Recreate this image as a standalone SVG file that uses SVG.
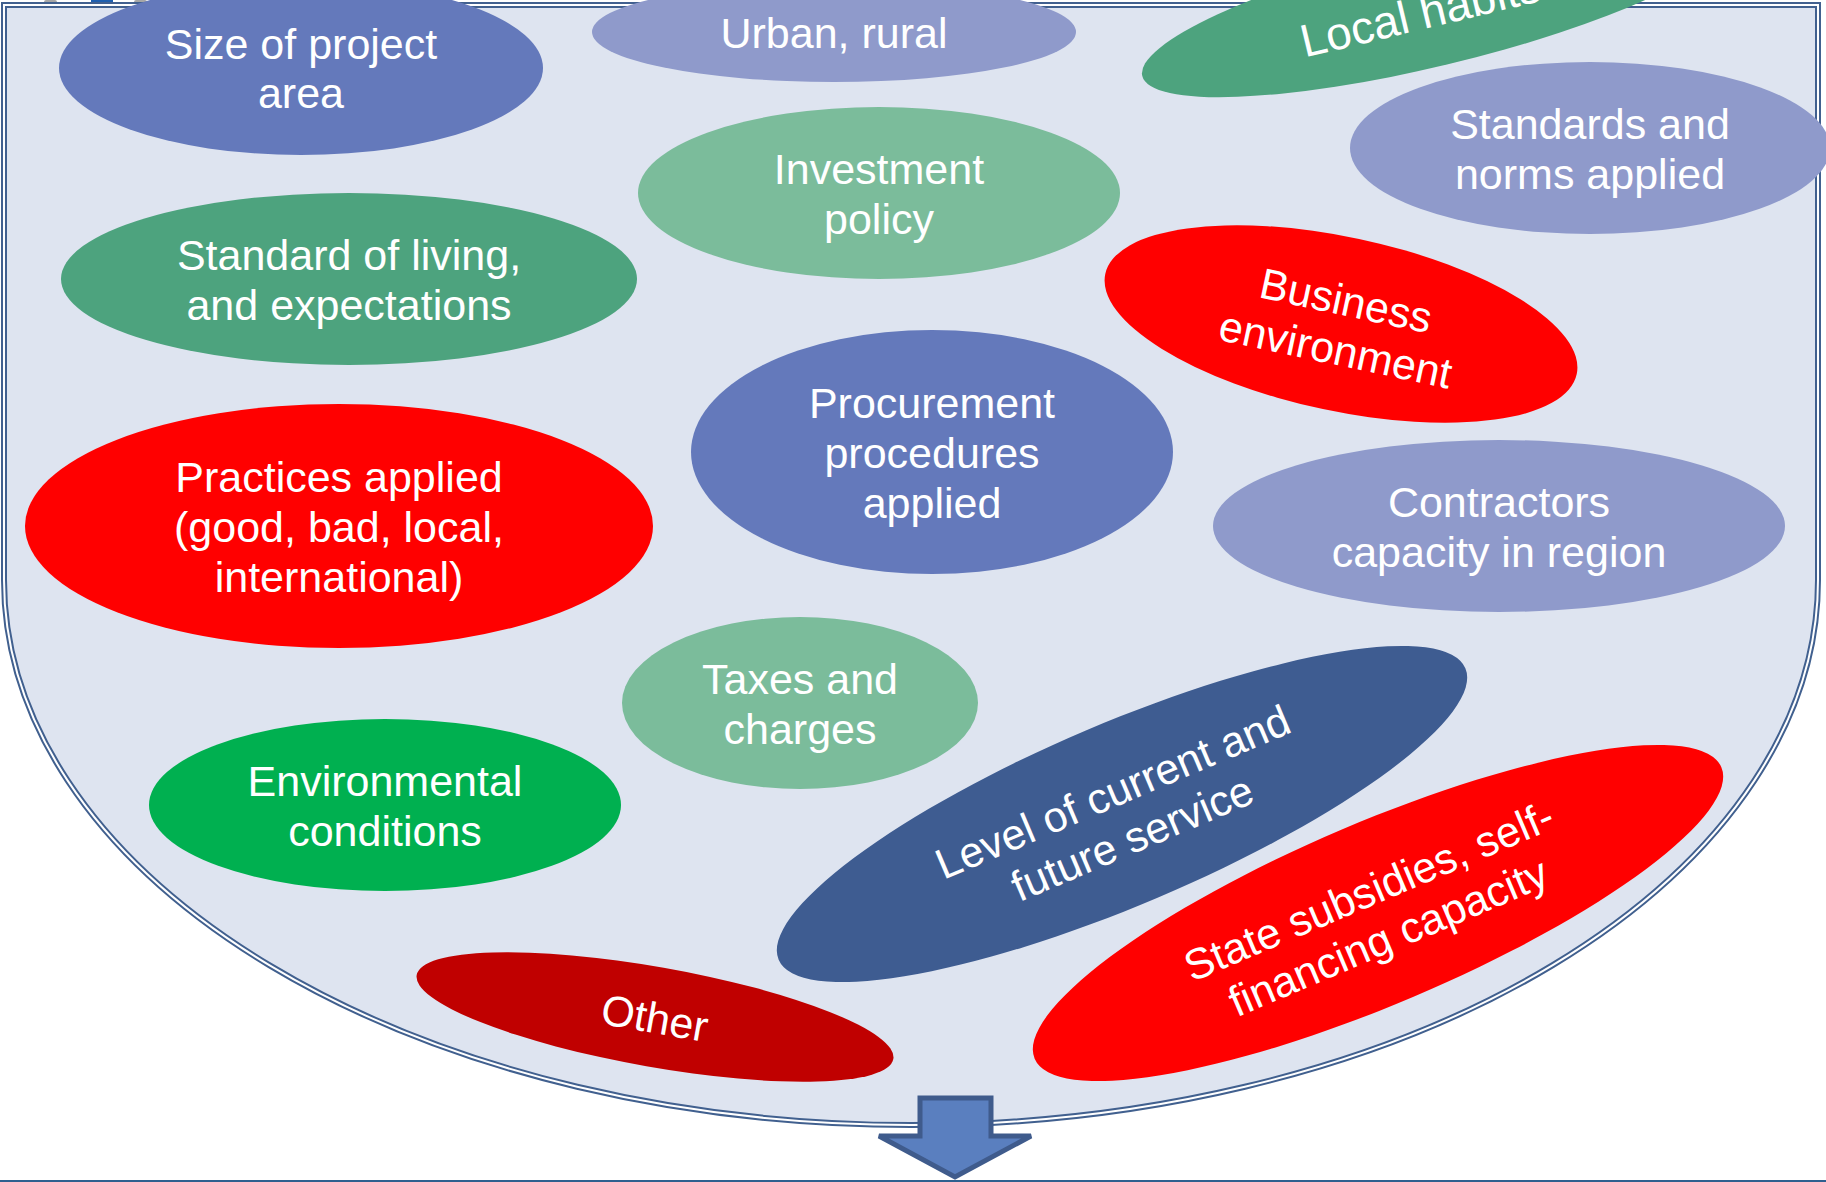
<svg xmlns="http://www.w3.org/2000/svg" width="1826" height="1182" viewBox="0 0 1826 1182">
  <style>
    .lbl { font-family: "Liberation Sans", Arial, sans-serif; font-size: 43px; fill: #ffffff; text-anchor: middle; }
    .blue { fill: #6479bb; }
    .lilac { fill: #8f9acb; }
    .green { fill: #4da37e; }
    .mint { fill: #7bbc9b; }
    .red { fill: #ff0000; }
    .darkred { fill: #c00000; }
    .bright { fill: #00b050; }
    .navy { fill: #3e5c91; }
  </style>
  <defs>
    <path id="bowlShape" d="M4,5 H1818 V580 A907,545 0 0 1 911,1125 A907,545 0 0 1 4,580 Z"/>
  </defs>

  <rect width="1826" height="1182" fill="#ffffff"/>

  <!-- fragments of the heading above the bowl -->
  <g id="heading-fragments">
    <rect x="44" y="0" width="13" height="5" rx="2" fill="#a6a6a6"/>
    <rect x="91" y="0" width="22" height="5" fill="#1f5faf"/>
    <rect x="134" y="0" width="13" height="5" rx="2" fill="#a6a6a6"/>
  </g>

  <!-- bowl with double outline -->
  <g id="bowl">
    <use href="#bowlShape" fill="#dee4f0"/>
    <use href="#bowlShape" fill="none" stroke="#41608f" stroke-width="6"/>
    <use href="#bowlShape" fill="none" stroke="#ffffff" stroke-width="2"/>
  </g>

  <g id="n-size">
    <ellipse class="blue" cx="301" cy="68" rx="242" ry="87"/>
    <text class="lbl" x="301" y="59">Size of project</text>
    <text class="lbl" x="301" y="108">area</text>
  </g>

  <g id="n-urban">
    <ellipse class="lilac" cx="834" cy="32" rx="242" ry="50"/>
    <text class="lbl" x="834" y="48">Urban, rural</text>
  </g>

  <g id="n-habits" transform="translate(1434,6) rotate(-13.5)">
    <ellipse class="green" cx="0" cy="0" rx="300" ry="60"/>
    <text class="lbl" x="-15" y="20" style="font-size:46px">Local habits</text>
  </g>

  <g id="n-standards">
    <ellipse class="lilac" cx="1590" cy="148" rx="240" ry="86"/>
    <text class="lbl" x="1590" y="139">Standards and</text>
    <text class="lbl" x="1590" y="189">norms applied</text>
  </g>

  <g id="n-investment">
    <ellipse class="mint" cx="879" cy="193" rx="241" ry="86"/>
    <text class="lbl" x="879" y="184">Investment</text>
    <text class="lbl" x="879" y="234">policy</text>
  </g>

  <g id="n-living">
    <ellipse class="green" cx="349" cy="279" rx="288" ry="86"/>
    <text class="lbl" x="349" y="270">Standard of living,</text>
    <text class="lbl" x="349" y="320">and expectations</text>
  </g>

  <g id="n-business" transform="translate(1341,324) rotate(12)">
    <ellipse class="red" cx="0" cy="0" rx="241" ry="87"/>
    <text class="lbl" x="0" y="-9">Business</text>
    <text class="lbl" x="0" y="41">environment</text>
  </g>

  <g id="n-procurement">
    <ellipse class="blue" cx="932" cy="452" rx="241" ry="122"/>
    <text class="lbl" x="932" y="418">Procurement</text>
    <text class="lbl" x="932" y="468">procedures</text>
    <text class="lbl" x="932" y="518">applied</text>
  </g>

  <g id="n-practices">
    <ellipse class="red" cx="339" cy="526" rx="314" ry="122"/>
    <text class="lbl" x="339" y="492">Practices applied</text>
    <text class="lbl" x="339" y="542">(good, bad, local,</text>
    <text class="lbl" x="339" y="592">international)</text>
  </g>

  <g id="n-contractors">
    <ellipse class="lilac" cx="1499" cy="526" rx="286" ry="86"/>
    <text class="lbl" x="1499" y="517">Contractors</text>
    <text class="lbl" x="1499" y="567">capacity in region</text>
  </g>

  <g id="n-taxes">
    <ellipse class="mint" cx="800" cy="703" rx="178" ry="86"/>
    <text class="lbl" x="800" y="694">Taxes and</text>
    <text class="lbl" x="800" y="744">charges</text>
  </g>

  <g id="n-environmental">
    <ellipse class="bright" cx="385" cy="805" rx="236" ry="86"/>
    <text class="lbl" x="385" y="796">Environmental</text>
    <text class="lbl" x="385" y="846">conditions</text>
  </g>

  <g id="n-service" transform="translate(1122,814) rotate(-23)">
    <ellipse class="navy" cx="0" cy="0" rx="373" ry="91"/>
    <text class="lbl" x="0" y="-9">Level of current and</text>
    <text class="lbl" x="0" y="41">future service</text>
  </g>

  <g id="n-subsidies" transform="translate(1378,913) rotate(-23)">
    <ellipse class="red" cx="0" cy="0" rx="373" ry="91"/>
    <text class="lbl" x="0" y="-9">State subsidies, self-</text>
    <text class="lbl" x="0" y="41">financing capacity</text>
  </g>

  <g id="n-other" transform="translate(655,1017) rotate(10)">
    <ellipse class="darkred" cx="0" cy="0" rx="242" ry="50"/>
    <text class="lbl" x="0" y="16">Other</text>
  </g>

  <!-- outflow arrow and base rule -->
  <g id="connectors">
    <polygon points="920,1098 991,1098 991,1136 1031,1136 955,1177 879,1136 920,1136" fill="#5a7fbf" stroke="#3f5b8c" stroke-width="5" stroke-linejoin="miter"/>
    <line x1="0" y1="1181" x2="1826" y2="1181" stroke="#2e5f8f" stroke-width="2"/>
  </g>
</svg>
